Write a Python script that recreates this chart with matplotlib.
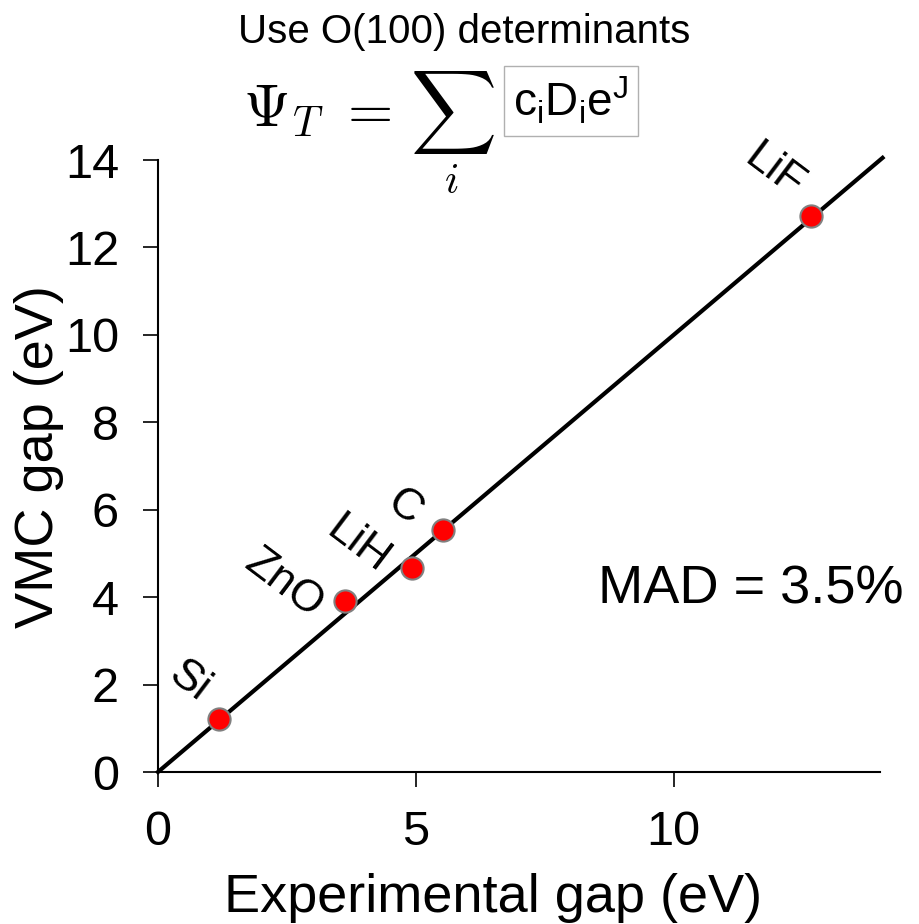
import matplotlib
matplotlib.use('Agg')
import matplotlib.pyplot as plt

plt.rcParams['font.family'] = ['Liberation Sans', 'DejaVu Sans']
plt.rcParams['mathtext.rm'] = 'Liberation Sans'
plt.rcParams['mathtext.it'] = 'Liberation Sans:italic'

# band gaps (eV)
materials = ['Si', 'ZnO', 'LiH', 'C', 'LiF']
exp_gap = [1.19, 3.62, 4.92, 5.53, 12.67]
vmc_gap = [1.21, 3.91, 4.67, 5.54, 12.72]
label_x = [0.62, 2.45, 3.87, 4.79, 11.95]
label_y = [2.06, 4.30, 5.19, 6.06, 13.75]
xticks = [0, 5, 10]
yticks = [0, 2, 4, 6, 8, 10, 12, 14]

fig = plt.figure(figsize=(9.2, 9.24), dpi=100)
ax = fig.add_axes([0.1717, 0.1645, 0.7848, 0.6623])

ax.plot([0, 14.05], [0, 14.05], color='black', lw=3, clip_on=False, zorder=2)
ax.plot(exp_gap, vmc_gap, 'o', color='red', ms=16, mec='gray', mew=1.5,
        clip_on=False, zorder=3)

for name, lx, ly in zip(materials, label_x, label_y):
    ax.text(lx, ly, name, fontsize=32, rotation=-37, ha='center', va='center',
            rotation_mode='anchor')

ax.text(8.54, 4.18, 'MAD = 3.5%', fontsize=39, ha='left', va='center',
        clip_on=False)

ax.set_xlim(0, 14)
ax.set_ylim(0, 14)
ax.set_xticks(xticks)
ax.set_yticks(yticks)
ax.spines['top'].set_visible(False)
ax.spines['right'].set_visible(False)
for s in ['left', 'bottom']:
    ax.spines[s].set_linewidth(1.5)
ax.tick_params(direction='out', length=11, width=1.2, labelsize=35)
ax.tick_params(axis='x', pad=16)
ax.tick_params(axis='y', pad=17)

ax.set_xlabel('Experimental gap (eV)', fontsize=39)
ax.xaxis.label.set_va('baseline')
ax.xaxis.set_label_coords(0.464, -0.228)
ax.set_ylabel('VMC gap (eV)', fontsize=39)
ax.yaxis.label.set_va('baseline')
ax.yaxis.set_label_coords(-0.1454, 0.515)

fig.text(0.505, 0.965, 'Use O(100) determinants', fontsize=29,
         ha='center', va='center')
fig.text(243 / 920, 1 - 127 / 924, r'$\Psi_T$', fontsize=43, ha='left',
         va='baseline', math_fontfamily='cm')
fig.text(337 / 920, 1 - 127 / 924, r'$=$', fontsize=42, ha='left',
         va='baseline', math_fontfamily='cm')
fig.text(410 / 920, 1 - 70 / 924, r'$\sum_i$', fontsize=43, ha='left',
         va='top', math_fontfamily='cm')
fig.text(571 / 920, 1 - 101 / 924, r'$\mathrm{c_iD_ie^J}$', fontsize=33,
         ha='center', va='center', math_fontfamily='custom',
         bbox=dict(boxstyle='square,pad=0.2', fc='white', ec='#b0b0b0', lw=1))

fig.savefig('out.png', dpi=100)
